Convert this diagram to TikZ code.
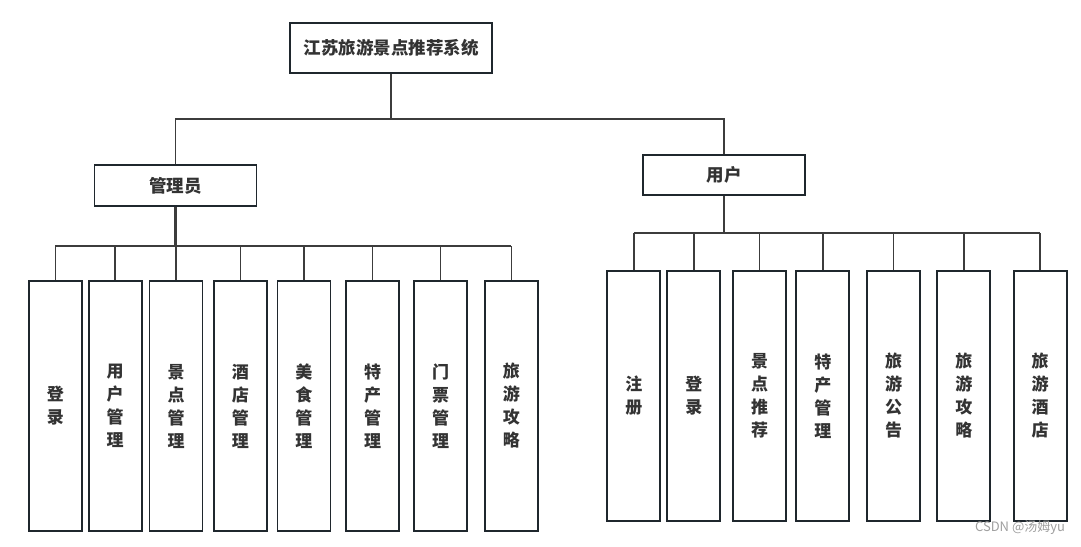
\documentclass[tikz,border=0pt]{standalone}
\usepackage{fontspec}
\setmainfont{Noto Sans CJK SC}
\definecolor{boxc}{HTML}{1F272D}
\definecolor{linec}{HTML}{3C3C3C}
\definecolor{txtc}{HTML}{333333}
\tikzset{
  box/.style={draw=boxc, line width=1.8pt, fill=white, text=txtc, font=\bfseries\fontsize{17.5}{20}\selectfont, inner sep=0pt},
  leaf/.style={box, minimum width=53pt, minimum height=250pt, align=center, font=\bfseries\fontsize{17}{23}\selectfont},
  conn/.style={draw=linec, line width=1.5pt},
  trunk/.style={draw=linec, line width=2.2pt},
}
\begin{document}
\begin{tikzpicture}[x=1pt,y=-1pt]
\useasboundingbox (0,0) rectangle (1081,546);
\node[box, minimum width=202pt, minimum height=50pt] (top) at (391,48) {江苏旅游景点推荐系统};
\node[box, minimum width=162pt, minimum height=41pt] (admin) at (175.5,185.5) {管理员};
\node[box, minimum width=162pt, minimum height=40pt] (user) at (724,175) {用户};
\coordinate (tbus) at (0,119);
\coordinate (abus) at (0,246);
\coordinate (ubus) at (0,233);
% admin leaves
\node[leaf] (a1) at (55.3,406) {登\\录};
\node[leaf] (a2) at (115.2,406) {用\\户\\管\\理};
\node[leaf] (a3) at (176,406) {景\\点\\管\\理};
\node[leaf] (a4) at (240.4,406) {酒\\店\\管\\理};
\node[leaf] (a5) at (303.9,406) {美\\食\\管\\理};
\node[leaf] (a6) at (372.5,406) {特\\产\\管\\理};
\node[leaf] (a7) at (440.5,406) {门\\票\\管\\理};
\node[leaf] (a8) at (511.3,406) {旅\\游\\攻\\略};
% user leaves
\node[leaf] (u1) at (633.8,396) {注\\册};
\node[leaf] (u2) at (693.8,396) {登\\录};
\node[leaf] (u3) at (759.7,396) {景\\点\\推\\荐};
\node[leaf] (u4) at (822.8,396) {特\\产\\管\\理};
\node[leaf] (u5) at (893.7,396) {旅\\游\\公\\告};
\node[leaf] (u6) at (963.8,396) {旅\\游\\攻\\略};
\node[leaf] (u7) at (1040.2,396) {旅\\游\\酒\\店};
% top connectors
\draw[conn] (top.south) -- (top.south |- tbus);
\draw[conn] (admin.north) |- (user.north |- tbus) -- (user.north);
% admin connectors
\draw[trunk] (admin.south) -- (admin.south |- abus);
\draw[conn] (a1.north |- abus) -- (a8.north |- abus);
\foreach \n in {a1,a2,a3,a4,a5,a6,a7,a8} {
  \draw[conn] (\n.north) -- (\n.north |- abus);
}
% user connectors
\draw[trunk] (user.south) -- (user.south |- ubus);
\draw[conn] (u1.north |- ubus) -- (u7.north |- ubus);
\foreach \n in {u1,u2,u3,u4,u5,u6,u7} {
  \draw[conn] (\n.north) -- (\n.north |- ubus);
}
\node[text=gray!75, font=\fontsize{13}{15}\selectfont, inner sep=0pt] (wm) at (1020,528) {CSDN @汤姆yu};
\end{tikzpicture}
\end{document}
